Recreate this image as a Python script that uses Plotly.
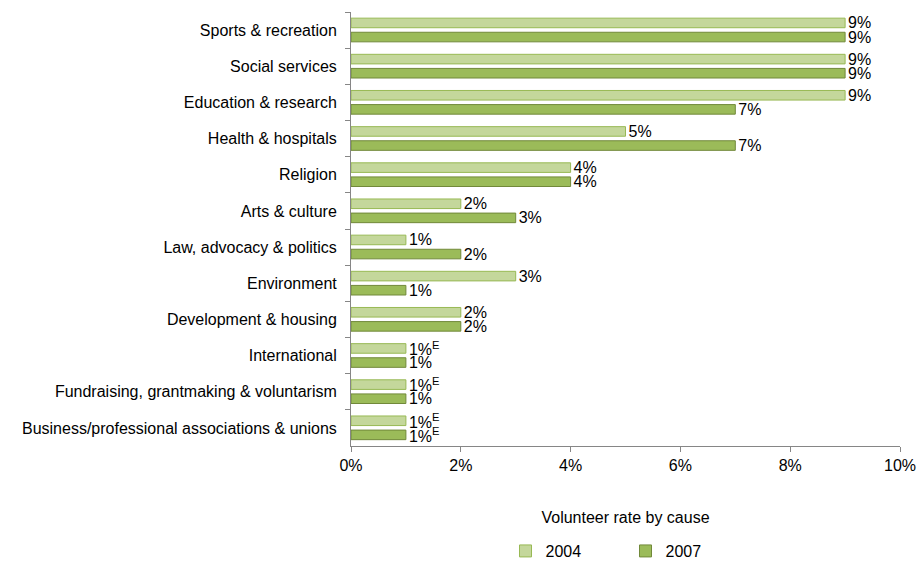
import plotly.graph_objects as go

# Volunteer rate by cause, 2004 vs 2007
causes = [
    "Sports & recreation",
    "Social services",
    "Education & research",
    "Health & hospitals",
    "Religion",
    "Arts & culture",
    "Law, advocacy & politics",
    "Environment",
    "Development & housing",
    "International",
    "Fundraising, grantmaking & voluntarism",
    "Business/professional associations & unions",
]
rate_2004 = [9, 9, 9, 5, 4, 2, 1, 3, 2, 1, 1, 1]
rate_2007 = [9, 9, 7, 7, 4, 3, 2, 1, 2, 1, 1, 1]
# "E" flag: estimate to be used with caution
flag_2004 = [False] * 9 + [True, True, True]
flag_2007 = [False] * 11 + [True]

x_ticks = [0, 2, 4, 6, 8, 10]
x_tick_labels = ["0%", "2%", "4%", "6%", "8%", "10%"]

FONT = "Liberation Sans, Arial, sans-serif"
SIZE = 16


def labels(values, flags):
    return [f"{v}%" + ("<sup>E</sup>" if f else "") for v, f in zip(values, flags)]


fig = go.Figure()
fig.add_trace(go.Bar(
    name="2004", y=causes, x=rate_2004, orientation="h",
    offset=-0.33, width=0.265,
    marker=dict(color="#c4d79b", line=dict(color="#98b954", width=1)),
    text=labels(rate_2004, flag_2004), textposition="outside",
    constraintext="none", cliponaxis=False,
    textfont=dict(family=FONT, size=SIZE, color="#000000"),
))
fig.add_trace(go.Bar(
    name="2007", y=causes, x=rate_2007, orientation="h",
    offset=0.06, width=0.265,
    marker=dict(color="#9bbb59", line=dict(color="#71893a", width=1)),
    text=labels(rate_2007, flag_2007), textposition="outside",
    constraintext="none", cliponaxis=False,
    textfont=dict(family=FONT, size=SIZE, color="#000000"),
))

fig.update_layout(
    width=919, height=561,
    margin=dict(l=351, r=19, t=12, b=115, autoexpand=False),
    barmode="overlay",
    plot_bgcolor="white", paper_bgcolor="white",
    font=dict(family=FONT, size=SIZE, color="#000000"),
    showlegend=True,
    legend=dict(
        orientation="h", x=0.5, xanchor="center", y=-0.242, yanchor="middle",
        font=dict(size=SIZE), traceorder="normal", itemwidth=30,
        entrywidth=75,
    ),
)
fig.update_xaxes(
    range=[0, 10], tickvals=x_ticks, ticktext=x_tick_labels,
    showgrid=False, zeroline=False, automargin=False,
    showline=True, linecolor="#868686", linewidth=1,
    ticks="outside", ticklen=5, tickcolor="#868686",
    tickfont=dict(size=SIZE),
    title=dict(text="Volunteer rate by cause", font=dict(size=SIZE), standoff=38),
)
fig.update_yaxes(
    autorange="reversed", type="category",
    showgrid=False, zeroline=False, automargin=False,
    showline=True, linecolor="#868686", linewidth=1,
    ticks="outside", ticklen=5, tickcolor="#868686", tickson="boundaries",
    ticklabelstandoff=10,
    tickfont=dict(size=SIZE),
)

fig.write_html("out.html")
